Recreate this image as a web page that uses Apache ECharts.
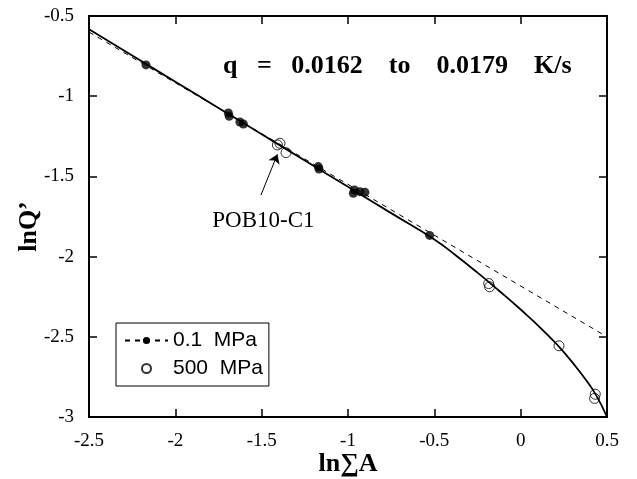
<!DOCTYPE html>
<html>
<head>
<meta charset="utf-8">
<script src="https://cdn.jsdelivr.net/npm/echarts@6/dist/echarts.min.js"></script>
<style>
html,body{margin:0;padding:0;background:#fff;}
#chart{width:637px;height:479px;}
</style>
</head>
<body>
<div id="chart"></div>
<script>
// ---- data ----
const lowP_x = [-2.17, -1.693, -1.688, -1.626, -1.606, -1.172, -1.168, -0.963, -0.969, -0.931, -0.902, -0.527];
const lowP_y = [-0.805, -1.105, -1.125, -1.161, -1.173, -1.439, -1.454, -1.585, -1.605, -1.595, -1.599, -1.868];
const highP_x = [-1.409, -1.394, -1.359, -0.185, -0.18, 0.222, 0.432, 0.428];
const highP_y = [-1.304, -1.294, -1.352, -2.168, -2.188, -2.556, -2.858, -2.884];
const linFit_x = [-2.5, 0.5];
const linFit_y = [-0.60, -2.50];
const curve_x = [-2.5, -2.25, -2.0, -1.75, -1.5, -1.25, -1.0, -0.75, -0.5, -0.375, -0.25, -0.125, 0.0, 0.125, 0.25, 0.375, 0.4375, 0.5];
const curve_y = [-0.582, -0.746, -0.910, -1.073, -1.237, -1.401, -1.565, -1.729, -1.893, -1.993, -2.100, -2.213, -2.330, -2.455, -2.595, -2.765, -2.865, -3.0];
const xTickLabels = ['-2.5', '-2', '-1.5', '-1', '-0.5', '0', '0.5'];
const yTickLabels = ['-3', '-2.5', '-2', '-1.5', '-1', '-0.5'];
const annotText = 'POB10-C1';
const annotPos = [-1.49, -1.775];
const arrowFrom = [-1.504, -1.616];
const arrowTo = [-1.409, -1.362];
const titleText = 'q   =   0.0162    to    0.0179    K/s';

const zip = (xs, ys) => xs.map((x, i) => [x, ys[i]]);
const serif = 'Liberation Serif';

const xMin = Number(xTickLabels[0]), xMax = Number(xTickLabels[xTickLabels.length - 1]);
const yMin = Number(yTickLabels[0]), yMax = Number(yTickLabels[yTickLabels.length - 1]);

function axisBase(extra) {
  return Object.assign({
    type: 'value',
    interval: 0.5,
    axisLine: { show: true, onZero: false, lineStyle: { color: '#000', width: 2 } },
    axisTick: { show: true, inside: true, length: 8, lineStyle: { color: '#000', width: 1.5 } },
    splitLine: { show: false },
  }, extra);
}

const chart = echarts.init(document.getElementById('chart'), null, { renderer: 'canvas' });
chart.setOption({
  animation: false,
  backgroundColor: '#fff',
  title: {
    text: titleText,
    left: 218,
    top: 48,
    textStyle: { fontFamily: serif, fontWeight: 'bold', fontSize: 26, color: '#000' }
  },
  grid: { left: 89, right: 30, top: 16, bottom: 62, outerBoundsMode: 'none', containLabel: false },
  legend: {
    orient: 'vertical',
    left: 116,
    top: 323,
    padding: [7, 6, 7, 8],
    itemGap: 7,
    itemWidth: 43,
    itemHeight: 9,
    borderColor: '#000',
    borderWidth: 1,
    borderRadius: 0,
    textStyle: { fontFamily: 'Liberation Sans', fontSize: 21, color: '#000' },
    data: ['0.1  MPa', '500  MPa']
  },
  xAxis: [
    axisBase({
      min: xMin, max: xMax, position: 'bottom',
      axisLabel: { margin: 15, fontFamily: serif, fontSize: 19, color: '#000',
        formatter: v => xTickLabels[Math.round((v - xMin) / 0.5)] },
      name: 'ln∑A', nameLocation: 'middle', nameGap: 34, nameMoveOverlap: false,
      nameTextStyle: { fontFamily: serif, fontWeight: 'bold', fontSize: 26, color: '#000' }
    }),
    axisBase({ min: xMin, max: xMax, position: 'top', axisLabel: { show: false } })
  ],
  yAxis: [
    axisBase({
      min: yMin, max: yMax, position: 'left',
      axisLabel: { margin: 15, fontFamily: serif, fontSize: 19, color: '#000',
        formatter: v => yTickLabels[Math.round((v - yMin) / 0.5)] },
      name: 'lnQ’', nameLocation: 'middle', nameGap: 60, nameRotate: 90, nameMoveOverlap: false,
      nameTextStyle: { fontFamily: serif, fontWeight: 'bold', fontSize: 26, color: '#000',
        verticalAlign: 'middle', padding: [0, 20, 0, 0] }
    }),
    axisBase({ min: yMin, max: yMax, position: 'right', axisLabel: { show: false } })
  ],
  series: [
    {
      name: 'curve', type: 'line', data: zip(curve_x, curve_y), smooth: 0.5,
      showSymbol: false, symbol: 'none', silent: true,
      lineStyle: { color: '#000', width: 1.8 }
    },
    {
      name: '0.1  MPa', type: 'line', data: zip(linFit_x, linFit_y),
      showSymbol: false, symbol: 'circle', silent: true,
      itemStyle: { color: '#000' },
      lineStyle: { color: '#000', width: 1, type: [5, 5] }
    },
    {
      name: '0.1 MPa points', type: 'scatter', data: zip(lowP_x, lowP_y),
      symbol: 'circle', symbolSize: 9, itemStyle: { color: '#000' }
    },
    {
      name: '500  MPa', type: 'scatter', data: zip(highP_x, highP_y),
      symbol: 'circle', symbolSize: 10,
      itemStyle: { color: 'rgba(255,255,255,0)', borderColor: '#000', borderWidth: 1 }
    },
    {
      name: 'annotation', type: 'scatter', data: [], silent: true,
      markPoint: {
        silent: true,
        symbol: 'rect', symbolSize: 1,
        itemStyle: { color: 'rgba(0,0,0,0)' },
        label: { show: true, position: 'inside', formatter: annotText,
          fontFamily: serif, fontSize: 23, color: '#000' },
        data: [{ coord: annotPos }]
      },
      markLine: {
        silent: true,
        symbol: ['none', 'arrow'],
        symbolSize: 9,
        lineStyle: { color: '#000', width: 1, type: 'solid' },
        itemStyle: { color: '#000' },
        label: { show: false },
        data: [[{ coord: arrowFrom }, { coord: arrowTo }]]
      }
    }
  ]
});
</script>
</body>
</html>
